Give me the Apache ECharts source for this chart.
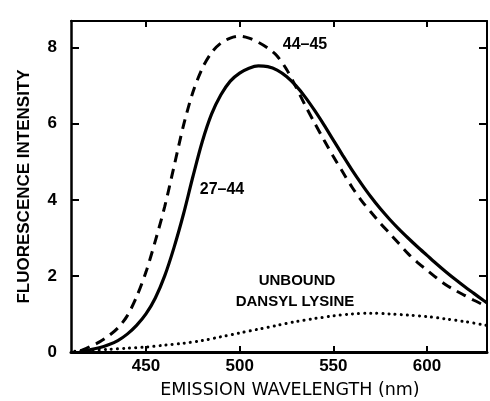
<!DOCTYPE html>
<html>
<head>
<meta charset="utf-8">
<script src="https://cdn.jsdelivr.net/npm/echarts@6/dist/echarts.min.js"></script>
<style>
  html, body { margin: 0; padding: 0; background: #fff; }
  #chart { width: 490px; height: 401px; }
</style>
</head>
<body>
<div id="chart"></div>
<script>
// emission spectra (nm, intensity)
var wl_2744 = [415, 420, 425, 430, 435, 440, 445, 450, 455, 460, 465, 470, 475, 480, 485, 490, 495, 500, 505, 510, 515, 520, 525, 530, 535, 540, 545, 550, 555, 560, 565, 570, 575, 580, 585, 590, 595, 600, 605, 610, 615, 620, 625, 630, 632];
var fl_2744 = [0.02, 0.06, 0.11, 0.19, 0.3, 0.47, 0.7, 1.0, 1.42, 2.0, 2.75, 3.62, 4.6, 5.52, 6.25, 6.76, 7.12, 7.33, 7.46, 7.52, 7.5, 7.41, 7.24, 7.0, 6.7, 6.35, 5.97, 5.57, 5.17, 4.78, 4.42, 4.08, 3.77, 3.49, 3.23, 2.99, 2.76, 2.54, 2.32, 2.11, 1.91, 1.72, 1.54, 1.36, 1.29];

var wl_4445 = [415, 420, 425, 430, 435, 440, 445, 450, 455, 460, 465, 470, 475, 480, 485, 490, 495, 500, 505, 510, 515, 520, 525, 530, 535, 540, 545, 550, 555, 560, 565, 570, 575, 580, 585, 590, 595, 600, 605, 610, 615, 620, 625, 630, 632];
var fl_4445 = [0.03, 0.14, 0.26, 0.42, 0.63, 0.95, 1.45, 2.1, 2.92, 3.82, 4.88, 5.95, 6.82, 7.45, 7.87, 8.12, 8.25, 8.3, 8.25, 8.14, 7.99, 7.78, 7.43, 6.97, 6.48, 6.02, 5.57, 5.14, 4.73, 4.33, 3.98, 3.68, 3.39, 3.12, 2.85, 2.58, 2.35, 2.15, 1.95, 1.77, 1.62, 1.49, 1.36, 1.24, 1.19];

var wl_free = [412, 420, 430, 440, 450, 460, 470, 480, 490, 500, 510, 520, 530, 540, 550, 560, 570, 580, 590, 600, 610, 620, 632];
var fl_free = [0.02, 0.04, 0.07, 0.1, 0.13, 0.18, 0.23, 0.3, 0.4, 0.5, 0.6, 0.7, 0.8, 0.88, 0.95, 1.0, 1.02, 1.0, 0.97, 0.93, 0.87, 0.8, 0.7];

var xTicks = [450, 500, 550, 600];
var yTicks = [0, 2, 4, 6, 8];

function pairs(xs, ys) {
    var out = [];
    for (var i = 0; i < xs.length; i++) {
        out.push([xs[i], ys[i]]);
    }
    return out;
}

var FONT = 'Liberation Sans';
var myChart = echarts.init(document.getElementById('chart'));

option = {
    animation: false,
    grid: { left: 71, right: 3, top: 21, bottom: 49 },
    xAxis: [{
        type: 'value',
        min: 410,
        max: 632,
        axisLine: { onZero: false, lineStyle: { color: '#000', width: 3 } },
        axisTick: { inside: true, length: 6, customValues: xTicks, lineStyle: { color: '#000', width: 2 } },
        axisLabel: { customValues: xTicks, margin: 6, fontFamily: FONT, fontSize: 17, fontWeight: 'bold', color: '#000' },
        splitLine: { show: false }
    }, {
        type: 'value',
        position: 'top',
        min: 410,
        max: 632,
        axisLine: { show: true, onZero: false, lineStyle: { color: '#000', width: 2 } },
        axisTick: { inside: true, length: 6, customValues: xTicks, lineStyle: { color: '#000', width: 2 } },
        axisLabel: { show: false },
        splitLine: { show: false }
    }],
    yAxis: [{
        type: 'value',
        min: 0,
        max: 8.7,
        name: 'FLUORESCENCE INTENSITY',
        nameLocation: 'middle',
        nameGap: 38,
        nameTextStyle: { fontFamily: FONT, fontSize: 17, color: '#000', fontWeight: 'bold' },
        axisLine: { show: true, onZero: false, lineStyle: { color: '#000', width: 2.5 } },
        axisTick: { inside: true, length: 8, customValues: yTicks, lineStyle: { color: '#000', width: 2 } },
        axisLabel: { customValues: yTicks, margin: 14, fontFamily: FONT, fontSize: 17, fontWeight: 'bold', color: '#000' },
        splitLine: { show: false }
    }, {
        type: 'value',
        position: 'right',
        min: 0,
        max: 8.7,
        axisLine: { show: true, onZero: false, lineStyle: { color: '#000', width: 2 } },
        axisTick: { inside: true, length: 8, customValues: yTicks, lineStyle: { color: '#000', width: 2 } },
        axisLabel: { show: false },
        splitLine: { show: false }
    }],
    series: [{
        name: '27-44',
        type: 'line',
        smooth: 0.3,
        symbol: 'none',
        data: pairs(wl_2744, fl_2744),
        lineStyle: { color: '#000', width: 3.2 }
    }, {
        name: '44-45',
        type: 'line',
        smooth: 0.3,
        symbol: 'none',
        data: pairs(wl_4445, fl_4445),
        lineStyle: { color: '#000', width: 3, type: [10, 7] }
    }, {
        name: 'unbound',
        type: 'line',
        smooth: 0.3,
        symbol: 'none',
        data: pairs(wl_free, fl_free),
        lineStyle: { color: '#000', width: 3, type: [0.1, 6], cap: 'round' }
    }],
    graphic: [
        { type: 'text', x: 290, y: 390, style: { text: 'EMISSION WAVELENGTH (nm)', fontFamily: 'DejaVu Sans', fontSize: 17.5, fill: '#000', align: 'center', verticalAlign: 'middle' } },
        { type: 'text', x: 305, y: 45, style: { text: '44\u201345', fontFamily: FONT, fontSize: 16, fontWeight: 'bold', fill: '#000', align: 'center', verticalAlign: 'middle' } },
        { type: 'text', x: 222, y: 190, style: { text: '27\u201344', fontFamily: FONT, fontSize: 16, fontWeight: 'bold', fill: '#000', align: 'center', verticalAlign: 'middle' } },
        { type: 'text', x: 297, y: 281, style: { text: 'UNBOUND', fontFamily: FONT, fontSize: 15, fontWeight: 'bold', fill: '#000', align: 'center', verticalAlign: 'middle' } },
        { type: 'text', x: 295, y: 302, style: { text: 'DANSYL LYSINE', fontFamily: FONT, fontSize: 15, fontWeight: 'bold', fill: '#000', align: 'center', verticalAlign: 'middle' } }
    ]
};

myChart.setOption(option);
</script>
</body>
</html>
